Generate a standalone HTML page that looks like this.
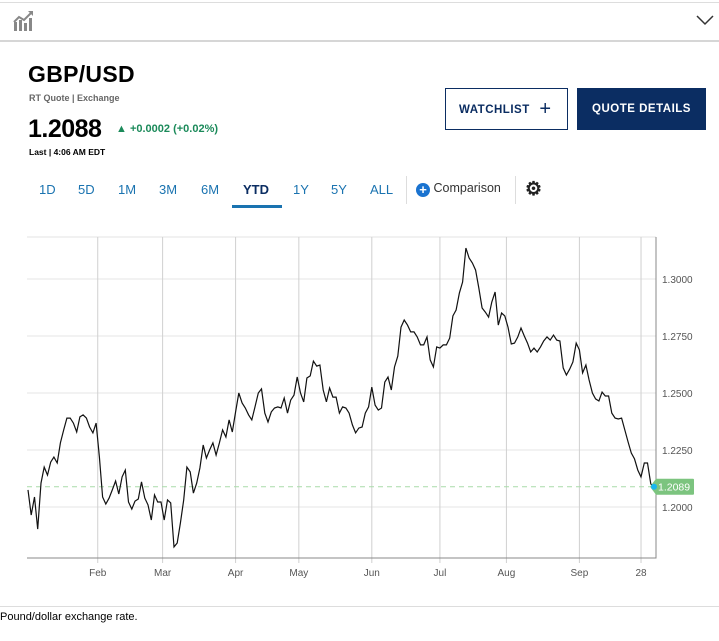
<!DOCTYPE html>
<html><head><meta charset="utf-8"><style>
body{margin:0;width:719px;height:641px;overflow:hidden;background:#fff;font-family:"Liberation Sans",sans-serif;position:relative}
.a{position:absolute}
.tab{position:absolute;top:182px;font-size:13px;color:#1a73b0}
</style></head><body>
<div class="a" style="left:0;top:2px;width:719px;height:1px;background:#ddd"></div>
<div class="a" style="left:0;top:40px;width:719px;height:2px;background:#d6d6d6"></div>
<svg class="a" style="left:12px;top:10px" width="22" height="22" viewBox="0 0 22 22"><g fill="#888"><rect x="2" y="12" width="3" height="9"/><rect x="7" y="10" width="3" height="11"/><rect x="12" y="13" width="3" height="8"/><rect x="17" y="8" width="3" height="13"/></g><polyline points="2,12 7,7 12,10 20,2" stroke="#888" stroke-width="2" fill="none"/><polygon points="16,1 21,1 21,6" fill="#888"/></svg>
<svg class="a" style="left:696px;top:14px" width="18" height="12"><polyline points="1,2 9,10 17,2" stroke="#333" stroke-width="1.5" fill="none"/></svg>
<div class="a" style="left:28px;top:61px;font-size:23px;font-weight:bold;color:#000;letter-spacing:0.3px">GBP/USD</div>
<div class="a" style="left:29px;top:93px;font-size:9px;color:#666;font-weight:bold">RT Quote | Exchange</div>
<div class="a" style="left:28px;top:115px;font-size:25px;font-weight:bold;color:#000;letter-spacing:-0.5px">1.2088</div>
<div class="a" style="left:116px;top:123px;font-size:11px;color:#1b8a5a;font-weight:bold">▲ +0.0002 (+0.02%)</div>
<div class="a" style="left:29px;top:147px;font-size:8.5px;font-weight:bold;color:#000">Last | 4:06 AM EDT</div>
<div class="a" style="left:445px;top:88px;width:123px;height:42px;border:1px solid #0b2d62;box-sizing:border-box;font-size:11.5px;font-weight:bold;color:#0b2d62;letter-spacing:0.5px;line-height:40px;padding-left:13px">WATCHLIST <span style="font-size:20px;font-weight:normal;vertical-align:-2px;margin-left:6px">+</span></div>
<div class="a" style="left:577px;top:88px;width:129px;height:42px;background:#0b2d62;color:#fff;font-size:11.5px;font-weight:bold;letter-spacing:0.5px;line-height:42px;text-align:center">QUOTE DETAILS</div>
<div class="tab" style="left:39px">1D</div>
<div class="tab" style="left:78px">5D</div>
<div class="tab" style="left:118px">1M</div>
<div class="tab" style="left:159px">3M</div>
<div class="tab" style="left:201px">6M</div>
<div class="tab" style="left:243px;font-weight:bold;color:#0b2d62">YTD</div>
<div class="a" style="left:232px;top:205px;width:50px;height:3px;background:#1a73b0"></div>
<div class="tab" style="left:293px">1Y</div>
<div class="tab" style="left:331px">5Y</div>
<div class="tab" style="left:370px">ALL</div>
<div class="a" style="left:406px;top:176px;width:1px;height:28px;background:#ddd"></div>
<div class="a" style="left:416px;top:181px;font-size:12.5px;color:#333"><span style="display:inline-block;width:14px;height:14px;border-radius:7px;background:#1a73d0;color:#fff;font-size:13px;line-height:14px;text-align:center;font-weight:bold;vertical-align:-2px">+</span> Comparison</div>
<div class="a" style="left:515px;top:176px;width:1px;height:28px;background:#ddd"></div>
<div class="a" style="left:525px;top:178px;font-size:19px;color:#222;font-weight:bold">⚙</div>
<svg class="a" id="chart" style="left:0;top:0" width="719" height="600"></svg>
<div class="a" style="left:0;top:606px;width:719px;height:1px;background:#ddd"></div>
<div class="a" style="left:0;top:611px;font-size:11px;color:#000">Pound/dollar exchange rate.</div>
<script>
const prices=[1.2075,1.1965,1.2044,1.1903,1.2105,1.2175,1.2140,1.2197,1.2219,1.2193,1.2281,1.2338,1.2390,1.2390,1.2368,1.2329,1.2395,1.2404,1.2390,1.2351,1.2325,1.2368,1.2219,1.2044,1.2013,1.2039,1.2075,1.2114,1.2057,1.2132,1.2162,1.2022,1.1991,1.2026,1.2035,1.2110,1.2039,1.2009,1.1943,1.2053,1.2022,1.2022,1.1943,1.2031,1.2018,1.1825,1.1842,1.1930,1.2031,1.2175,1.2154,1.2061,1.2105,1.2171,1.2272,1.2215,1.2250,1.2281,1.2228,1.2281,1.2338,1.2307,1.2382,1.2329,1.2417,1.2500,1.2456,1.2434,1.2404,1.2382,1.2439,1.2500,1.2518,1.2412,1.2373,1.2417,1.2434,1.2439,1.2434,1.2478,1.2412,1.2469,1.2491,1.2570,1.2500,1.2461,1.2566,1.2575,1.2640,1.2618,1.2623,1.2513,1.2461,1.2522,1.2482,1.2482,1.2412,1.2439,1.2434,1.2412,1.2360,1.2325,1.2346,1.2351,1.2412,1.2439,1.2526,1.2447,1.2425,1.2434,1.2548,1.2570,1.2513,1.2614,1.2662,1.2789,1.2820,1.2798,1.2768,1.2768,1.2746,1.2711,1.2711,1.2746,1.2645,1.2614,1.2702,1.2697,1.2711,1.2711,1.2741,1.2838,1.2864,1.2939,1.2987,1.3136,1.3092,1.3070,1.3039,1.2961,1.2873,1.2855,1.2833,1.2899,1.2943,1.2798,1.2851,1.2838,1.2789,1.2715,1.2719,1.2746,1.2785,1.2750,1.2719,1.2680,1.2697,1.2680,1.2702,1.2728,1.2746,1.2732,1.2754,1.2732,1.2728,1.2610,1.2579,1.2605,1.2636,1.2719,1.2689,1.2588,1.2623,1.2557,1.2500,1.2474,1.2465,1.2504,1.2487,1.2487,1.2412,1.2390,1.2386,1.2390,1.2338,1.2285,1.2237,1.2211,1.2162,1.2132,1.2193,1.2193,1.2101,1.2088];
const tickLabels=["Feb","Mar","Apr","May","Jun","Jul","Aug","Sep","28"];
const tickIndex=[21.5,41.5,64,83.5,106,127,147.5,170,189];
const yTicks=[1.2000,1.2250,1.2500,1.2750,1.3000];
const lastValue=1.2089;
const svg=document.getElementById('chart');
const NS='http://www.w3.org/2000/svg';
const X0=28,X1=654,Y0v=1.3,Y0p=279,PPU=2280;
const xs=i=>X0+i*(X1-X0)/(prices.length-1);
const ys=v=>Y0p-(v-Y0v)*PPU;
function mk(t,a){const e=document.createElementNS(NS,t);for(const k in a)e.setAttribute(k,a[k]);svg.appendChild(e);return e;}
let e=mk('line',{x1:27,x2:656,y1:237,y2:237,stroke:'#e3e3e3'});


yTicks.forEach(v=>{const y=ys(v);
 let g=mk('line',{x1:27,x2:656,y1:y,y2:y,stroke:'#e6e6e6'});
 
 
 let t=mk('text',{x:662,y:y+4,'font-size':10,fill:'#555','font-family':'Liberation Sans, sans-serif'});t.textContent=v.toFixed(4);
 
 
});
tickIndex.forEach((ix,k)=>{const x=xs(ix);
 let g=mk('line',{x1:x,x2:x,y1:237,y2:563,stroke:'#d0d0d0'});
 
 
 let t=mk('text',{x:x,y:576,'font-size':10,fill:'#555','text-anchor':'middle','font-family':'Liberation Sans, sans-serif'});t.textContent=tickLabels[k];
 
 
});
e=mk('polyline',{points:'27,558 656,558 656,237',fill:'none',stroke:'#888'});


const ly=ys(lastValue);
e=mk('line',{x1:27,x2:650,y1:ly,y2:ly,stroke:'#a9dca9','stroke-dasharray':'5,4'});


e=mk('polyline',{points:prices.map((v,i)=>xs(i).toFixed(1)+','+ys(v).toFixed(1)).join(' '),fill:'none',stroke:'#111','stroke-width':1.2});


e=mk('path',{d:`M650 ${ly} L656 ${ly-8} L693 ${ly-8} Q694 ${ly-8} 694 ${ly-7} L694 ${ly+7} Q694 ${ly+8} 693 ${ly+8} L656 ${ly+8} Z`,fill:'#7cc47f'});


e=mk('circle',{cx:xs(prices.length-1),cy:ly,r:3,fill:'#19b6f0'});


e=mk('text',{x:658,y:ly+4,'font-size':10.5,fill:'#fff','font-family':'Liberation Sans, sans-serif'});e.textContent=lastValue.toFixed(4);


</script>
</body></html>
